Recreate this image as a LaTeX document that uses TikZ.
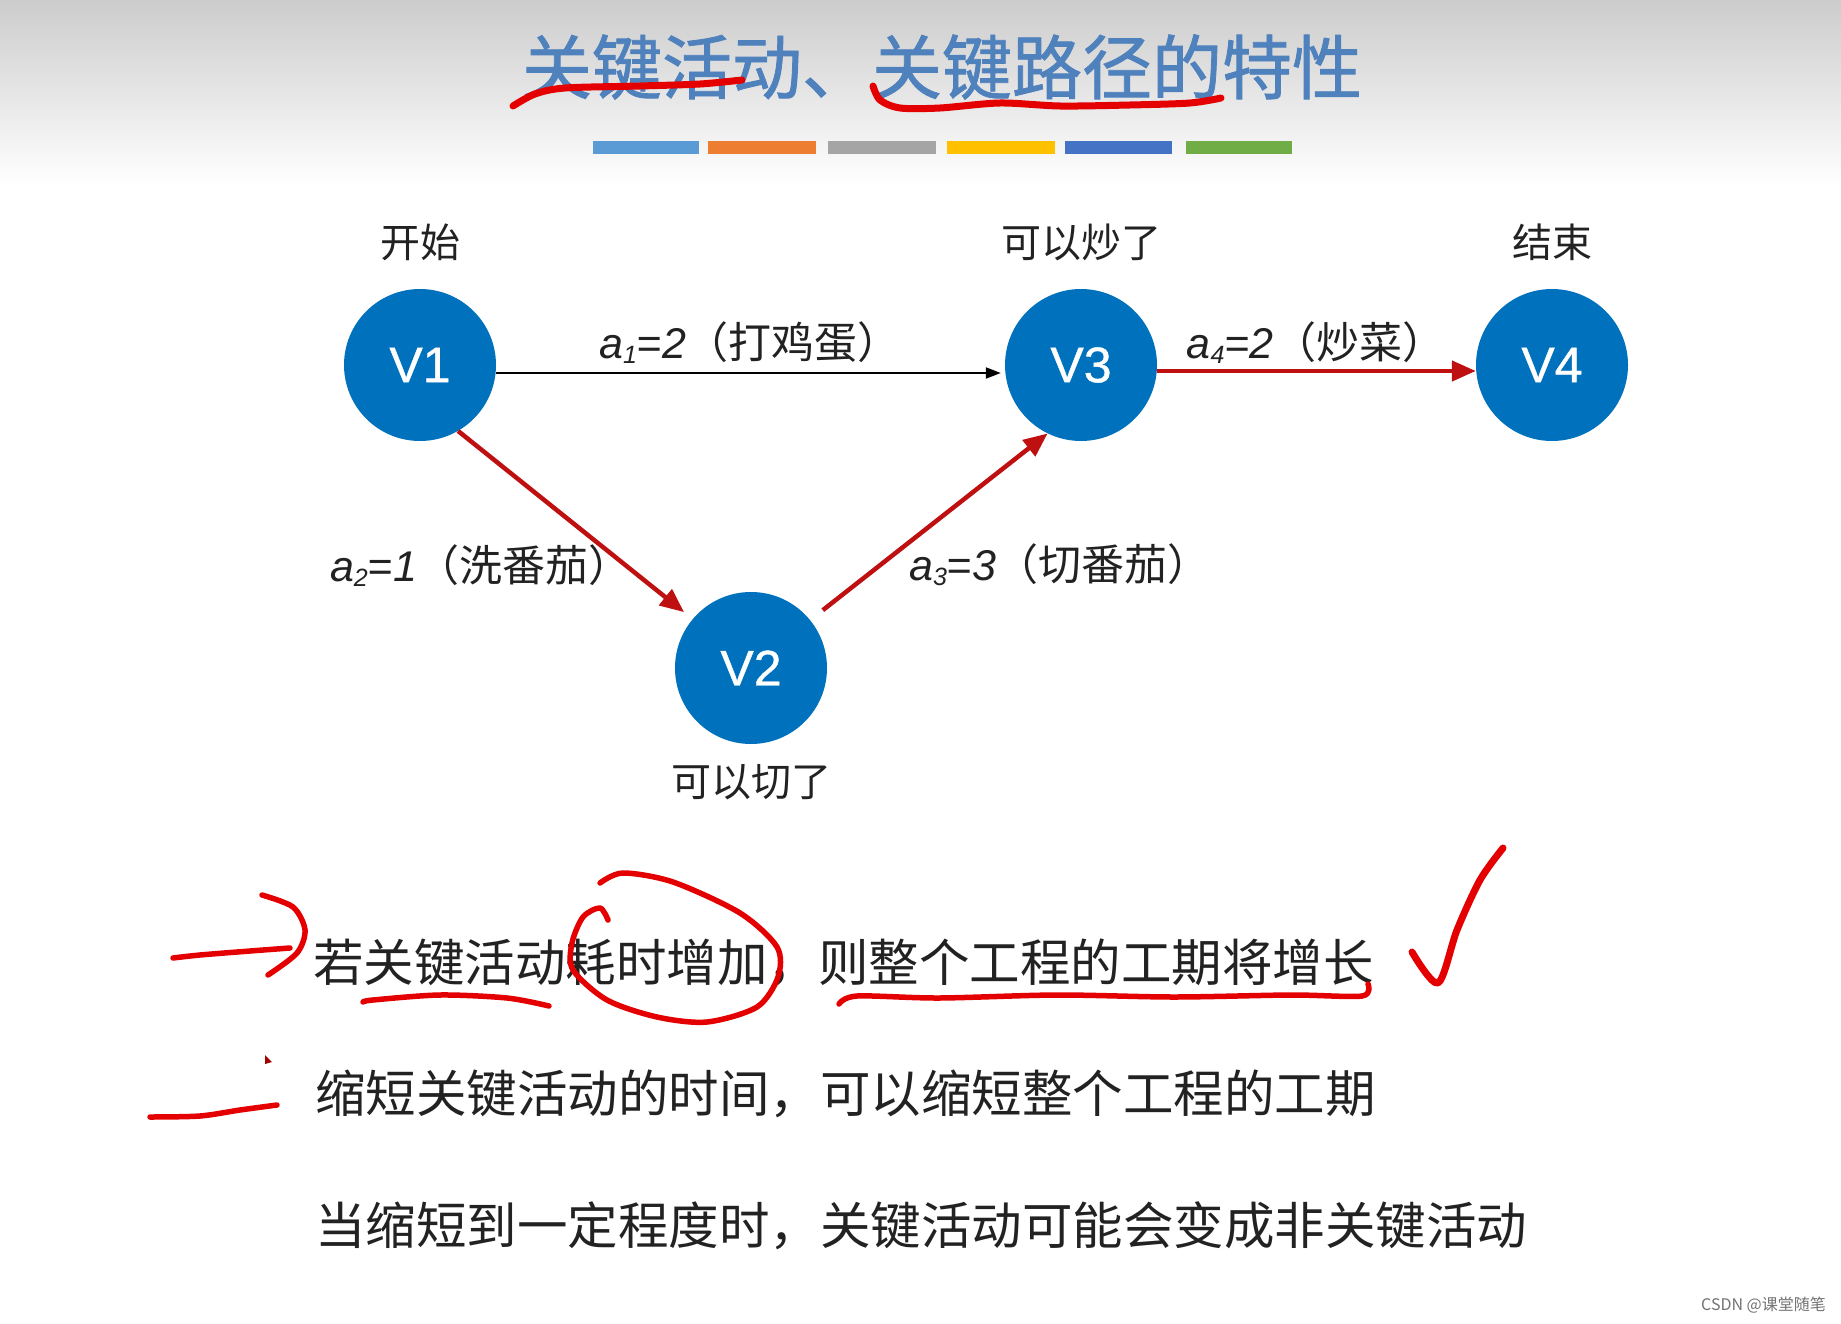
\documentclass[tikz,border=0pt]{standalone}
\usepackage{fontspec}
\setmainfont{Noto Sans CJK SC}
\newfontfamily\titlefont[FakeBold=1.2]{Noto Sans CJK SC}
\newfontfamily\lat{Liberation Sans}
\newfontfamily\vfont[FakeBold=0.8]{Liberation Sans}
\usetikzlibrary{arrows.meta}
\definecolor{nodeblue}{RGB}{0,113,188}
\definecolor{titleblue}{RGB}{79,129,189}
\definecolor{edgered}{RGB}{190,16,16}
\definecolor{penred}{RGB}{228,0,0}
\definecolor{txt}{RGB}{34,34,34}
\definecolor{b1}{RGB}{91,155,213}
\definecolor{b2}{RGB}{237,125,49}
\definecolor{b3}{RGB}{165,165,165}
\definecolor{b4}{RGB}{255,192,0}
\definecolor{b5}{RGB}{68,114,196}
\definecolor{b6}{RGB}{112,173,71}
\newcommand\alab[2]{{\lat\itshape a\raisebox{-0.12em}{\fontsize{25}{25}\selectfont #1}=#2}}
\begin{document}
\begin{tikzpicture}[x=1pt,y=-1pt,
  vnode/.style={circle, fill=nodeblue, minimum size=152pt, inner sep=0pt, text=white, font=\vfont\fontsize{50}{50}\selectfont},
  state/.style={font=\fontsize{40}{40}\selectfont, text=txt, inner sep=0pt},
  elabel/.style={font=\fontsize{43}{43}\selectfont, text=txt, inner sep=0pt},
  textline/.style={font=\fontsize{50.5}{50.5}\selectfont, text=txt, anchor=west, inner sep=0pt},
  pen/.style={penred, line width=5.5pt, line cap=round, line join=round},
  crit/.style={edgered, line width=4.5pt, -{Triangle[length=24pt,width=20pt]}},
  noncrit/.style={black, line width=2pt, -{Triangle[length=15pt,width=11pt]}}]
\useasboundingbox (0,0) rectangle (1841,1324);
\fill[white] (0,0) rectangle (1841,1324);
\shade[top color=black!20, bottom color=white] (0,0) rectangle (1841,185);

% title
\node[font=\titlefont\fontsize{70}{70}\selectfont, text=titleblue, inner sep=0pt] (title) at (942,67) {关键活动、关键路径的特性};
% colour bars
\fill[b1] (593,141) rectangle (699,154);
\fill[b2] (708,141) rectangle (816,154);
\fill[b3] (828,141) rectangle (936,154);
\fill[b4] (947,141) rectangle (1055,154);
\fill[b5] (1065,141) rectangle (1172,154);
\fill[b6] (1186,141) rectangle (1292,154);

% nodes
\node[vnode] (V1) at (420,365) {V1};
\node[vnode] (V3) at (1081,365) {V3};
\node[vnode] (V4) at (1552,365) {V4};
\node[vnode] (V2) at (751,668) {V2};

\node[state] (s1) at (420,242) {开始};
\node[state] (s3) at (1081,242) {可以炒了};
\node[state] (s4) at (1552,242) {结束};
\node[state] (s2) at (751,782) {可以切了};

% edges
\draw[noncrit, shorten >=4pt] ([yshift=-8pt]V1.east) -- ([yshift=-8pt]V3.west);
\draw[crit] ([yshift=-6pt]V3.east) -- ([yshift=-6pt]V4.west);
\draw[crit, shorten >=11pt] (V1.-60) -- (V2.140);
\draw[crit, shorten <=16pt] (V2.39) -- (V3.244);

% edge labels
\node[elabel] (l1) at (750,343) {\alab{1}{2}（打鸡蛋）};
\node[elabel] (l4) at (1316,343) {\alab{4}{2}（炒菜）};
\node[elabel] (l2) at (481,566) {\alab{2}{1}（洗番茄）};
\node[elabel] (l3) at (1060,565) {\alab{3}{3}（切番茄）};

% text lines
\node[textline] (t1) at (313,963) {若关键活动耗时增加，则整个工程的工期将增长};
\node[textline] (t2) at (315,1094) {缩短关键活动的时间，可以缩短整个工程的工期};
\node[textline] (t3) at (315,1226) {当缩短到一定程度时，关键活动可能会变成非关键活动};

% watermark
\node[font=\fontsize{16}{16}\selectfont, text=black!55, anchor=east, inner sep=0pt] (wm) at (1826,1305) {CSDN @课堂随笔};

% hand-drawn annotations
\draw[pen, line width=7pt] plot[smooth] coordinates {(513,106) (535,94) (565,88) (640,86) (700,84) (742,80)};
\draw[pen, line width=7pt] plot[smooth] coordinates {(873,86) (880,100) (900,108) (940,108) (1000,103) (1060,106) (1130,105) (1190,103) (1221,98)};
\draw[pen] plot[smooth] coordinates {(173,958) (200,955) (250,951) (290,948)};
\draw[pen] plot[smooth] coordinates {(262,895) (293,907) (305,930) (297,953) (268,975)};
\draw[pen] plot[smooth] coordinates {(363,1002) (373,1000) (440,995) (507,998) (549,1006)};
\draw[pen] plot[smooth] coordinates {(600,883) (623,873) (673,882) (740,913) (777,947) (778,977) (757,1007) (707,1022) (657,1017) (607,1000) (573,970) (572,943) (583,917) (600,908) (608,920)};
\draw[pen] plot[smooth] coordinates {(839,1004) (857,996) (939,998) (1057,995) (1174,997) (1291,995) (1362,996) (1368,984)};
\draw[pen, line width=7pt] plot[smooth] coordinates {(1412,952) (1438,983) (1457,930) (1480,880) (1503,848)};
\draw[pen] plot[smooth] coordinates {(150,1117) (200,1116) (240,1110) (277,1105)};
\fill[penred!70!black] (265,1055) -- (272,1062) -- (265,1064) -- cycle;
\end{tikzpicture}
\end{document}
